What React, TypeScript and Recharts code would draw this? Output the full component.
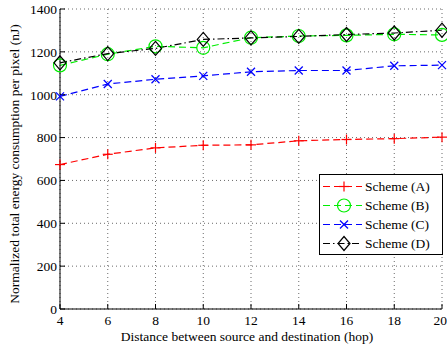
import { LineChart, Line, XAxis, YAxis, CartesianGrid, Legend } from "recharts"

const hops = [4, 6, 8, 10, 12, 14, 16, 18, 20]
const schemeA = [674, 722, 752, 764, 766, 785, 791, 795, 802]
const schemeB = [1137, 1189, 1226, 1219, 1266, 1274, 1277, 1282, 1279]
const schemeC = [992, 1050, 1072, 1088, 1107, 1113, 1113, 1135, 1138]
const schemeD = [1149, 1192, 1216, 1258, 1265, 1272, 1281, 1288, 1301]

const xTicks = [4, 6, 8, 10, 12, 14, 16, 18, 20]
const yTicks = [0, 200, 400, 600, 800, 1000, 1200, 1400]

const data = hops.map((h, i) => ({
  hop: h,
  a: schemeA[i],
  b: schemeB[i],
  c: schemeC[i],
  d: schemeD[i],
}))

const FONT = "'Liberation Serif', 'DejaVu Serif', serif"

const Plus = ({ cx, cy, color = "#ff0000", s = 5 }: any) => (
  <g stroke={color} strokeWidth={1.2}>
    <line x1={cx - s} y1={cy} x2={cx + s} y2={cy} />
    <line x1={cx} y1={cy - s} x2={cx} y2={cy + s} />
  </g>
)

const Circ = ({ cx, cy, color = "#00ee00", r = 6.5 }: any) => (
  <circle cx={cx} cy={cy} r={r} fill="none" stroke={color} strokeWidth={1.2} />
)

const Cross = ({ cx, cy, color = "#0000ff", s = 4 }: any) => (
  <g stroke={color} strokeWidth={1.2}>
    <line x1={cx - s} y1={cy - s} x2={cx + s} y2={cy + s} />
    <line x1={cx - s} y1={cy + s} x2={cx + s} y2={cy - s} />
  </g>
)

const Diamond = ({ cx, cy, color = "#000", w = 6, h = 7 }: any) => (
  <polygon
    points={`${cx},${cy - h} ${cx + w},${cy} ${cx},${cy + h} ${cx - w},${cy}`}
    fill="none"
    stroke={color}
    strokeWidth={1.2}
  />
)

const legendItems = [
  { name: "Scheme (A)", color: "#ff0000", dash: "7 4", Mark: Plus },
  { name: "Scheme (B)", color: "#00ee00", dash: "7 4", Mark: Circ },
  { name: "Scheme (C)", color: "#0000ff", dash: "7 4", Mark: Cross },
  { name: "Scheme (D)", color: "#000000", dash: "7 3 1.5 3", Mark: Diamond },
]

const CustomLegend = () => (
  <div
    style={{
      width: 124,
      height: 81,
      border: "1px solid #000",
      background: "#fff",
      boxSizing: "border-box",
      paddingTop: 2,
    }}
  >
    {legendItems.map((it) => (
      <div key={it.name} style={{ display: "flex", alignItems: "center", height: 19 }}>
        <svg width={45} height={19}>
          <line x1={3} y1={9.5} x2={42} y2={9.5} stroke={it.color} strokeWidth={1.2} strokeDasharray={it.dash} />
          <it.Mark cx={24} cy={9.5} color={it.color} />
        </svg>
        <span style={{ fontFamily: FONT, fontSize: 13.5, color: "#000", lineHeight: "19px" }}>{it.name}</span>
      </div>
    ))}
  </div>
)

export default function App() {
  return (
    <div style={{ position: "absolute", left: 0, top: 0, background: "#fff" }}>
      <LineChart
        width={447}
        height={345}
        data={data}
        margin={{ top: 9, right: 5, bottom: 0, left: 0 }}
        style={{ fontFamily: FONT }}
      >
        <CartesianGrid stroke="#444" strokeDasharray="1 3" strokeWidth={0.8} />
        <XAxis
          dataKey="hop"
          type="number"
          domain={[4, 20]}
          ticks={xTicks}
          height={36}
          stroke="#000"
          tickSize={-5}
          tickMargin={11}
          tick={{ fontSize: 13.5, fill: "#000" }}
          label={{
            content: () => (
              <text x={247} y={341} textAnchor="middle" fontSize={13.5} fill="#000" fontFamily={FONT}>
                Distance between source and destination (hop)
              </text>
            ),
          }}
        />
        <YAxis
          type="number"
          domain={[0, 1400]}
          ticks={yTicks}
          width={60}
          stroke="#000"
          tickSize={-5}
          tickMargin={8}
          tick={{ fontSize: 13.5, fill: "#000" }}
          label={{
            content: () => (
              <text
                x={19}
                y={164}
                textAnchor="middle"
                fontSize={13.5}
                fill="#000"
                fontFamily={FONT}
                transform="rotate(-90 19 164)"
              >
                Normalized total energy consumption per pixel (nJ)
              </text>
            ),
          }}
        />
        <XAxis
          xAxisId="top"
          orientation="top"
          dataKey="hop"
          type="number"
          domain={[4, 20]}
          ticks={xTicks}
          height={0}
          stroke="#000"
          tickSize={-5}
          tick={() => null}
        />
        <YAxis
          yAxisId="right"
          orientation="right"
          type="number"
          domain={[0, 1400]}
          ticks={yTicks}
          width={0}
          stroke="#000"
          tickSize={-5}
          tick={() => null}
        />
        <Legend
          layout="vertical"
          align="center"
          verticalAlign="middle"
          wrapperStyle={{ left: 319, top: 174, width: 124 }}
          content={() => <CustomLegend />}
        />
        <Line
          dataKey="a"
          stroke="#ff0000"
          strokeWidth={1.2}
          strokeDasharray="7 4"
          dot={(p: any) => <Plus key={p.index} cx={p.cx} cy={p.cy} />}
          activeDot={false}
          isAnimationActive={false}
        />
        <Line
          dataKey="b"
          stroke="#00ee00"
          strokeWidth={1.2}
          strokeDasharray="7 4"
          dot={(p: any) => <Circ key={p.index} cx={p.cx} cy={p.cy} />}
          activeDot={false}
          isAnimationActive={false}
        />
        <Line
          dataKey="c"
          stroke="#0000ff"
          strokeWidth={1.2}
          strokeDasharray="7 4"
          dot={(p: any) => <Cross key={p.index} cx={p.cx} cy={p.cy} />}
          activeDot={false}
          isAnimationActive={false}
        />
        <Line
          dataKey="d"
          stroke="#000000"
          strokeWidth={1.2}
          strokeDasharray="7 3 1.5 3"
          dot={(p: any) => <Diamond key={p.index} cx={p.cx} cy={p.cy} />}
          activeDot={false}
          isAnimationActive={false}
        />
      </LineChart>
    </div>
  )
}
